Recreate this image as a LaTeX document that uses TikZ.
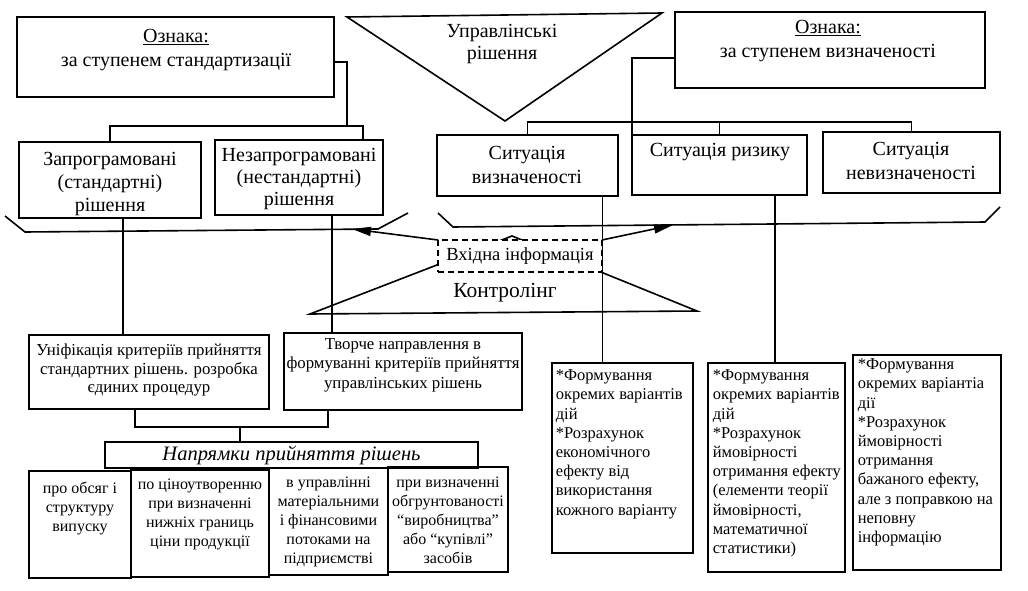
\documentclass[tikz,border=0pt]{standalone}
\usepackage{fontspec}
\setmainfont{Liberation Serif}
\usetikzlibrary{arrows.meta}

\begin{document}
\begin{tikzpicture}[x=1pt,y=-1pt,line width=1.6pt,
  frame/.style={draw,inner sep=0pt,outer sep=0pt,anchor=north west},
  big/.style={inner sep=0pt,align=center,font=\fontsize{20}{23}\selectfont},
  mid/.style={inner sep=0pt,align=center,font=\fontsize{16}{19}\selectfont},
  list/.style={inner sep=0pt,align=left,anchor=north west,font=\fontsize{16.5}{19.2}\selectfont},
  arr/.style={-{Triangle[length=19pt,width=9pt]}}]
  \useasboundingbox (0,0) rectangle (1028,591);

  \draw (347,17) -- (662,13) -- (505,121) -- cycle;
  \node[big,font=\fontsize{20}{22}\selectfont] (upr) at (502,44) {Управлінські\\рішення};

  \node[frame,minimum width=317pt,minimum height=80pt] (sign1) at (17,17) {};
  \node[big,font=\fontsize{20}{24}\selectfont] (sign1t) at (176,50) {\underline{Ознака:}\\за ступенем стандартизації};
  \node[frame,minimum width=310pt,minimum height=76pt] (sign2) at (675,12) {};
  \node[big,font=\fontsize{20}{24}\selectfont] (sign2t) at (828,41) {\underline{Ознака:}\\за ступенем визначеності};

  \node[frame,minimum width=182pt,minimum height=76pt] (zap) at (19,142) {};
  \node[big] (zapt) at (110,184) {Запрограмовані\\(стандартні)\\рішення};
  \node[frame,minimum width=168pt,minimum height=75pt] (nez) at (215,140) {};
  \node[big,font=\fontsize{20}{22}\selectfont] (nezt) at (299,179) {Незапрограмовані\\(нестандартні)\\рішення};

  \node[frame,minimum width=181pt,minimum height=61pt] (sit1) at (437,135) {};
  \node[big,font=\fontsize{20}{24}\selectfont] (sit1t) at (527,165) {Ситуація\\визначеності};
  \node[frame,minimum width=175pt,minimum height=60pt] (sit2) at (632,135) {};
  \node[big] (sit2t) at (720,152) {Ситуація ризику};
  \node[frame,minimum width=177pt,minimum height=61pt] (sit3) at (823,132) {};
  \node[big,font=\fontsize{20}{24}\selectfont] (sit3t) at (911,161) {Ситуація\\невизначеності};

  \draw ([yshift=-5pt]sign1.east) -- ++(13,0) -- ++(0,64);
  \draw (zap.north) -- ++(0,-16) -| ([xshift=64pt]nez.north);
  \draw ([yshift=-8pt]sign2.west) -| (sit2.north west);
  \draw (sit1.north) -- ++(0,-13) -| (sit3.north);
  \draw (sit2.north) -- ++(0,-13);

  \draw (5,216) -- (25,232) -- (378,229) -- (408,213);
  \draw (438,213) -- (453,227) -- (985,222) -- (1000,207);
  \coordinate (inL) at (352,229);
  \coordinate (inR) at (673,225);

  \draw (310,314) -- (512,236) -- (697,311) -- cycle;
  \node[inner sep=0pt,font=\fontsize{21.5}{24}\selectfont] (ctrl) at (505,293) {Контролінг};
  \node[frame,dash pattern=on 6pt off 4pt,fill=white,minimum width=164pt,minimum height=32pt,
    font=\fontsize{18.5}{20}\selectfont] (vhid) at (438,240) {Вхідна інформація};
  \draw[arr] (vhid.north west) -- (inL);
  \draw[arr] (vhid.north east) -- (inR);

  \node[frame,minimum width=240pt,minimum height=74pt] (unif) at (29,335) {};
  \node[mid,font=\fontsize{16.8}{18.5}\selectfont] (unift) at (149,370) {Уніфікація критеріїв прийняття\\стандартних рішень. розробка\\єдиних процедур};
  \node[frame,minimum width=238pt,minimum height=77pt] (tvor) at (284,333) {};
  \node[mid,font=\fontsize{16.8}{19.5}\selectfont] (tvort) at (403,365) {Творче направлення в\\формуванні критеріїв прийняття\\управлінських рішень};

  \node[frame,minimum width=141pt,minimum height=190pt] (form1) at (552,363) {};
  \node[list] (form1t) at (555,369) {*Формування\\окремих варіантів\\дій\\*Розрахунок\\економічного\\ефекту від\\використання\\кожного варіанту};
  \node[frame,minimum width=137pt,minimum height=209pt] (form2) at (708,363) {};
  \node[list] (form2t) at (712,369) {*Формування\\окремих варіантів\\дій\\ *Розрахунок\\ймовірності\\отримання ефекту\\(елементи теорії\\ймовірності,\\математичної\\статистики)};
  \node[frame,minimum width=148pt,minimum height=215pt] (form3) at (853,355) {};
  \node[list] (form3t) at (857,358) {*Формування\\окремих варіантіа\\дії\\*Розрахунок\\ймовірності\\отримання\\бажаного ефекту,\\але з поправкою на\\неповну\\інформацію};

  \node[frame,minimum width=373pt,minimum height=26pt,font=\fontsize{20.5}{24}\selectfont\itshape] (napr) at (105,442) {Напрямки прийняття рішень};
  \node[frame,minimum width=102pt,minimum height=107pt] (dir1) at (29,471) {};
  \node[mid,anchor=north] (dir1t) at (80,481) {про обсяг і\\структуру\\випуску};
  \node[frame,minimum width=138pt,minimum height=107pt] (dir2) at (131,470) {};
  \node[mid,anchor=north] (dir2t) at (200,478) {по ціноутворенню\\при визначенні\\нижніх границь\\ціни продукції};
  \node[frame,minimum width=119pt,minimum height=107pt] (dir3) at (269,468) {};
  \node[mid,anchor=north] (dir3t) at (328.5,476) {в управлінні\\матеріальними\\і фінансовими\\потоками на\\підприємстві};
  \node[frame,minimum width=120pt,minimum height=105pt] (dir4) at (388,467) {};
  \node[mid,anchor=north] (dir4t) at (448,476) {при визначенні\\обгрунтованості\\“виробництва”\\або “купівлі”\\засобів};

  \coordinate (zs) at ([xshift=13pt]zap.south);
  \coordinate (ns) at ([xshift=33pt]nez.south);
  \coordinate (s1s) at ([xshift=75pt]sit1.south);
  \coordinate (s2s) at ([xshift=55.5pt]sit2.south);
  \draw (zs) -- (zs |- unif.north);
  \draw (ns) -- (ns |- tvor.north);
  \draw (s1s) -- (s1s |- form1.north);
  \draw (s2s) -- (s2s |- form2.north);

  \coordinate (us) at ([xshift=-14pt]unif.south);
  \coordinate (ts) at ([xshift=-75pt]tvor.south);
  \coordinate (nn) at ([xshift=-51.5pt]napr.north);
  \draw (us) -- ++(0,18) -| (ts);
  \draw (nn) -- ++(0,-15);
\end{tikzpicture}
\end{document}
